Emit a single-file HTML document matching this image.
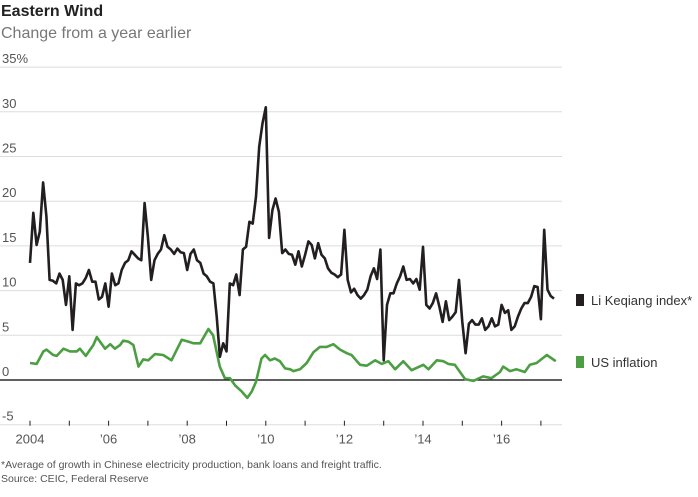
<!DOCTYPE html>
<html><head><meta charset="utf-8">
<style>
body{margin:0;background:#fff;width:698px;height:492px;overflow:hidden;font-family:"Liberation Sans",sans-serif;}
svg text{font-family:"Liberation Sans",sans-serif;}
</style></head>
<body>
<svg id="chart" width="698" height="492">
  <text x="1" y="16" font-size="16" font-weight="bold" fill="#222">Eastern Wind</text>
  <text x="1" y="38" font-size="16" fill="#777">Change from a year earlier</text>
  <g id="grid"></g>
  <g id="xaxis"></g>
  <g id="series"></g>
  <g>
    <rect x="576" y="294" width="8" height="12" fill="#231f20"></rect>
    <text x="591" y="305" font-size="13" fill="#333">Li Keqiang index*</text>
    <rect x="576" y="356" width="8" height="12" fill="#4c9e43"></rect>
    <text x="591" y="367" font-size="13" fill="#333">US inflation</text>
  </g>
  <text x="1" y="468" font-size="10.5" fill="#555">*Average of growth in Chinese electricity production, bank loans and freight traffic.</text>
  <text x="1" y="482" font-size="10.5" fill="#555">Source: CEIC, Federal Reserve</text>
</svg>
<script>
const yTicks = [-5, 0, 5, 10, 15, 20, 25, 30, 35];
const yTickLabels = ["-5", "0", "5", "10", "15", "20", "25", "30", "35%"];
const xTickYears = [2004,2005,2006,2007,2008,2009,2010,2011,2012,2013,2014,2015,2016,2017];
const xLabelYears = [2004, 2006, 2008, 2010, 2012, 2014, 2016];
const xLabels = ["2004", "\u201906", "\u201908", "\u201910", "\u201912", "\u201914", "\u201916"];
const liStartYear = 2004;
const liValues = [
13.1,18.7,15.1,16.6,22.1,18.3,11.2,11.1,10.8,11.9,11.2,8.4,
11.6,5.6,10.8,10.6,10.8,11.4,12.3,11,11,9,9.3,10.8,
8.2,11.9,10.6,10.8,12.3,13.1,13.4,14.4,14,13.6,13.4,19.8,
16,11.2,13.4,14.1,14.6,16.2,14.9,14.6,14.1,14.7,14.3,14.2,
12.3,14.1,14.6,13.4,13.1,11.9,11.6,11,10.8,7.1,2.6,4.1,
3.2,10.8,10.6,11.8,9.5,14.6,14.9,17.7,17.5,20.5,26.1,28.7,
30.5,15.9,19,20.3,18.8,14.2,14.6,14.1,14,12.9,14.4,12.7,
14,15.5,15.1,13.6,15.3,14,13.6,12.5,12,11.8,11.5,11.8,
16.8,11.2,9.8,10.2,9.5,9.1,9.5,10.1,11.6,12.5,11.3,14.6,
2.2,8.4,9.7,9.7,10.8,11.6,12.7,11.2,11.3,10.8,11.3,10.1,
14.9,8.4,8,8.6,9.7,8.2,6.5,8.8,6.7,7.1,7.6,11.2,
6.5,3,6.3,6.7,6.2,6.2,6.9,5.6,6,6.9,6,6.2,
8.4,7.5,7.8,5.6,6,7.1,8,8.6,8.6,9.3,10.5,10.4,
6.8,16.8,10.1,9.4,9.1
];
const infDates = [2004.00,2004.17,2004.34,2004.42,2004.59,2004.68,2004.85,2005.02,2005.19,2005.27,2005.42,2005.53,2005.61,2005.70,2005.78,2005.91,2006.04,2006.16,2006.29,2006.37,2006.50,2006.63,2006.76,2006.88,2007.01,2007.18,2007.39,2007.60,2007.86,2008.03,2008.16,2008.33,2008.54,2008.66,2008.83,2008.96,2009.09,2009.22,2009.39,2009.53,2009.64,2009.75,2009.89,2009.98,2010.11,2010.23,2010.36,2010.49,2010.62,2010.70,2010.87,2011.04,2011.21,2011.38,2011.55,2011.72,2011.89,2012.06,2012.18,2012.40,2012.57,2012.78,2012.95,2013.12,2013.29,2013.50,2013.71,2014.01,2014.14,2014.35,2014.52,2014.64,2014.81,2015.07,2015.28,2015.53,2015.74,2015.96,2016.04,2016.21,2016.38,2016.59,2016.72,2016.89,2017.15,2017.38];
const infValues = [1.9,1.8,3.2,3.4,2.8,2.7,3.5,3.2,3.2,3.5,2.7,3.4,3.9,4.8,4.3,3.5,4.0,3.5,3.9,4.4,4.3,3.9,1.5,2.3,2.2,2.9,2.8,2.2,4.5,4.3,4.1,4.1,5.7,5.0,1.5,0.2,0.2,-0.6,-1.3,-2.0,-1.3,-0.2,2.4,2.8,2.2,2.4,2.1,1.3,1.2,1.0,1.2,1.9,3.1,3.7,3.7,4.0,3.4,3.0,2.8,1.7,1.6,2.2,1.8,2.1,1.2,2.1,1.1,1.7,1.2,2.2,2.1,1.8,1.7,0.1,-0.1,0.4,0.2,0.9,1.5,1.0,1.2,0.9,1.7,1.9,2.8,2.1];

const NS = "http://www.w3.org/2000/svg";
const X0 = 30, PXY = 39.3, Y0 = 380, PXV = 8.94;
function xScale(year){ return X0 + (year - 2004) * PXY; }
function yScale(v){ return Y0 - v * PXV; }
function mk(tag, attrs, parent){ const e = document.createElementNS(NS, tag); for (const k in attrs) e.setAttribute(k, attrs[k]); parent.appendChild(e); return e; }

const grid = document.getElementById('grid');
yTicks.forEach((t, i) => {
  const y = yScale(t);
  const ln = mk('line', {x1: 0, x2: 562, y1: y, y2: y, stroke: t === 0 ? '#000' : '#ddd', 'stroke-width': t === 0 ? 1.2 : 1}, grid);
  
  
  const tx = mk('text', {x: 2, y: y - 4, 'font-size': 13, fill: '#555'}, grid);
  tx.textContent = yTickLabels[i];
  
  
});
const xa = document.getElementById('xaxis');
const yBase = yScale(-5);
xTickYears.forEach(yr => {
  const x = xScale(yr);
  const t = mk('line', {x1: x, x2: x, y1: yBase - 4, y2: yBase + 1, stroke: '#222', 'stroke-width': 1}, xa);
  
  
});
xLabelYears.forEach((yr, i) => {
  const tx = mk('text', {x: xScale(yr), y: yBase + 19, 'font-size': 13, fill: '#555', 'text-anchor': 'middle'}, xa);
  tx.textContent = xLabels[i];
  
  
});
const ser = document.getElementById('series');
const infPts = infDates.map((d, i) => xScale(d).toFixed(1) + ',' + yScale(infValues[i]).toFixed(1)).join(' ');
const gl = mk('polyline', {points: infPts, fill: 'none', stroke: '#4c9e43', 'stroke-width': 2.6, 'stroke-linejoin': 'round'}, ser);


const liPts = liValues.map((v, i) => xScale(liStartYear + i / 12).toFixed(1) + ',' + yScale(v).toFixed(1)).join(' ');
const bl = mk('polyline', {points: liPts, fill: 'none', stroke: '#231f20', 'stroke-width': 2.6, 'stroke-linejoin': 'round'}, ser);


</script>
</body></html>
